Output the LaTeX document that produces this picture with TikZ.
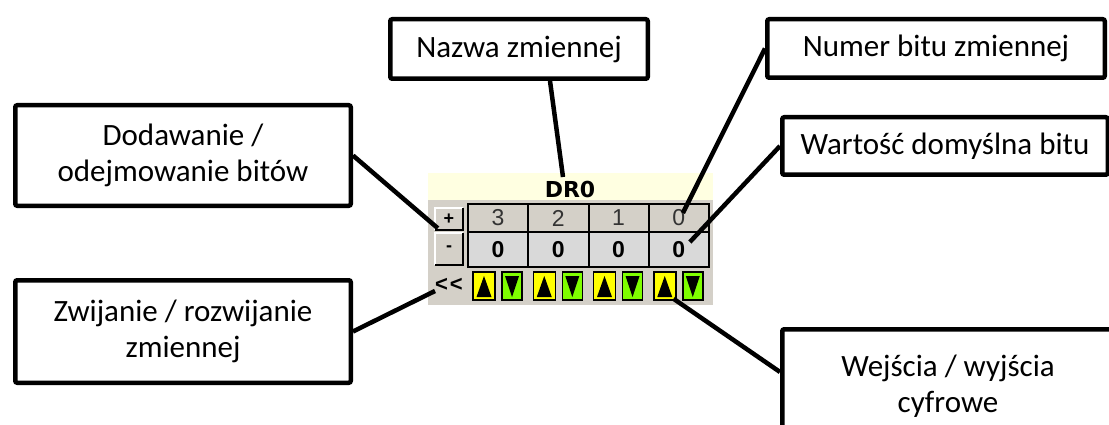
\documentclass[tikz,border=0pt]{standalone}
\usepackage{fontspec}
\setmainfont{Carlito}
\newfontfamily\uifont{Liberation Sans}
\newfontfamily\capfont{DejaVu Sans}
\usetikzlibrary{calc}

\definecolor{panel}{HTML}{D4D0C8}
\definecolor{cellgray}{HTML}{D9D9D9}
\definecolor{titlebg}{HTML}{FFFFE1}
\definecolor{inyellow}{HTML}{FFFF00}
\definecolor{outgreen}{HTML}{7FFF00}

\begin{document}
\begin{tikzpicture}[x=1pt,y=-1pt,
  callout/.style={draw,line width=4.5pt,rounded corners=2pt,fill=white,
    align=center,inner sep=0pt,font=\fontsize{31}{36}\selectfont},
  lead/.style={line width=4.5pt},
  hdrcell/.style={draw,line width=2pt,fill=panel,inner sep=0pt,
    minimum width=60.25,minimum height=28,
    font=\uifont\fontsize{23}{23}\selectfont,text=black!80},
  valcell/.style={draw,line width=2pt,fill=cellgray,inner sep=0pt,
    minimum width=60.25,minimum height=35,
    font=\uifont\bfseries\fontsize{23}{23}\selectfont},
  inbtn/.style={draw,line width=1.5pt,fill=inyellow,inner sep=0pt,
    minimum width=22,minimum height=28},
  outbtn/.style={draw,line width=1.5pt,fill=outgreen,inner sep=0pt,
    minimum width=20,minimum height=28},
  sidebtn/.style={fill=panel,inner sep=0pt,minimum width=28,
    font=\uifont\bfseries\fontsize{18}{18}\selectfont},
]
\useasboundingbox (0,0) rectangle (1109,425);
\clip (0,0) rectangle (1109,425);

% variable widget: title strip and panel
\fill[titlebg] (428,173) rectangle (713,200);
\fill[panel] (428,200) rectangle (713,305);
\node[font=\capfont\bfseries\fontsize{22}{22}\selectfont] (dr) at (570,189) {DR0};

% bit number row, default value row and I/O buttons
\foreach \b [count=\k from 0] in {3,2,1,0} {
  \node[hdrcell] (h\b) at ({498.125+60.25*\k},218) {\b};
  \node[valcell] (v\b) at ({498.125+60.25*\k},249.5) {0};
  \node[inbtn] (up\b) at ({484+60.25*\k},286) {};
  \node[outbtn] (dn\b) at ({512+60.25*\k},286) {};
  \fill ($(up\b.center)+(0,-10)$) -- ($(up\b.center)+(7.5,11)$)
        -- ($(up\b.center)+(-7.5,11)$) -- cycle;
  \fill ($(dn\b.center)+(0,11)$) -- ($(dn\b.center)+(7,-10)$)
        -- ($(dn\b.center)+(-7,-10)$) -- cycle;
}

% add / remove bit buttons
\node[sidebtn,minimum height=22] (plus) at (449,219) {+};
\node[sidebtn,minimum height=32] (minus) at (449,249) {-};
\foreach \n in {plus,minus} {
  \draw[white,line width=1.5pt] (\n.south west) -- (\n.north west) -- (\n.north east);
  \draw[line width=2pt] (\n.north east) -- (\n.south east) -- (\n.south west);
}

% collapse / expand
\node[font=\uifont\bfseries\fontsize{22}{22}\selectfont,inner sep=0pt] (fold) at (449,285) {<\kern2pt<};

% callouts
\node[callout,minimum width=257.5,minimum height=59.5] (naz) at (519,49) {Nazwa zmiennej};
\node[callout,minimum width=337.5,minimum height=58.5] (num) at (936,48.5) {Numer bitu zmiennej};
\node[callout,minimum width=325.5,minimum height=57.5] (war) at (945,146) {Wartość domyślna bitu};
\node[callout,minimum width=335.5,minimum height=100.5] (dod) at (183,155.5) {Dodawanie /\\odejmowanie bitów};
\node[callout,minimum width=335.5,minimum height=102.5] (zwi) at (183,331.5) {Zwijanie / rozwijanie\\zmiennej};
\node[callout,minimum width=331.5,minimum height=113.5] (wej) at (948,386) {Wejścia / wyjścia\\cyfrowe};

% leader lines
\draw[lead] ($(naz.south)+(31,0)$) -- ($(dr.center)+(-7,-12)$);
\draw[lead] (num.west) -- ($(h0.center)+(4,-5)$);
\draw[lead] (war.west) -- ($(v0.center)+(11,-7.5)$);
\draw[lead] (dod.east) -- ($(plus.south west)+(3,-2)$);
\draw[lead] (zwi.east) -- ($(fold.center)+(-14,6)$);
\draw[lead] ($(wej.west)+(0,-14)$) -- ($(up0.south east)+(-3,-2)$);
\end{tikzpicture}
\end{document}
